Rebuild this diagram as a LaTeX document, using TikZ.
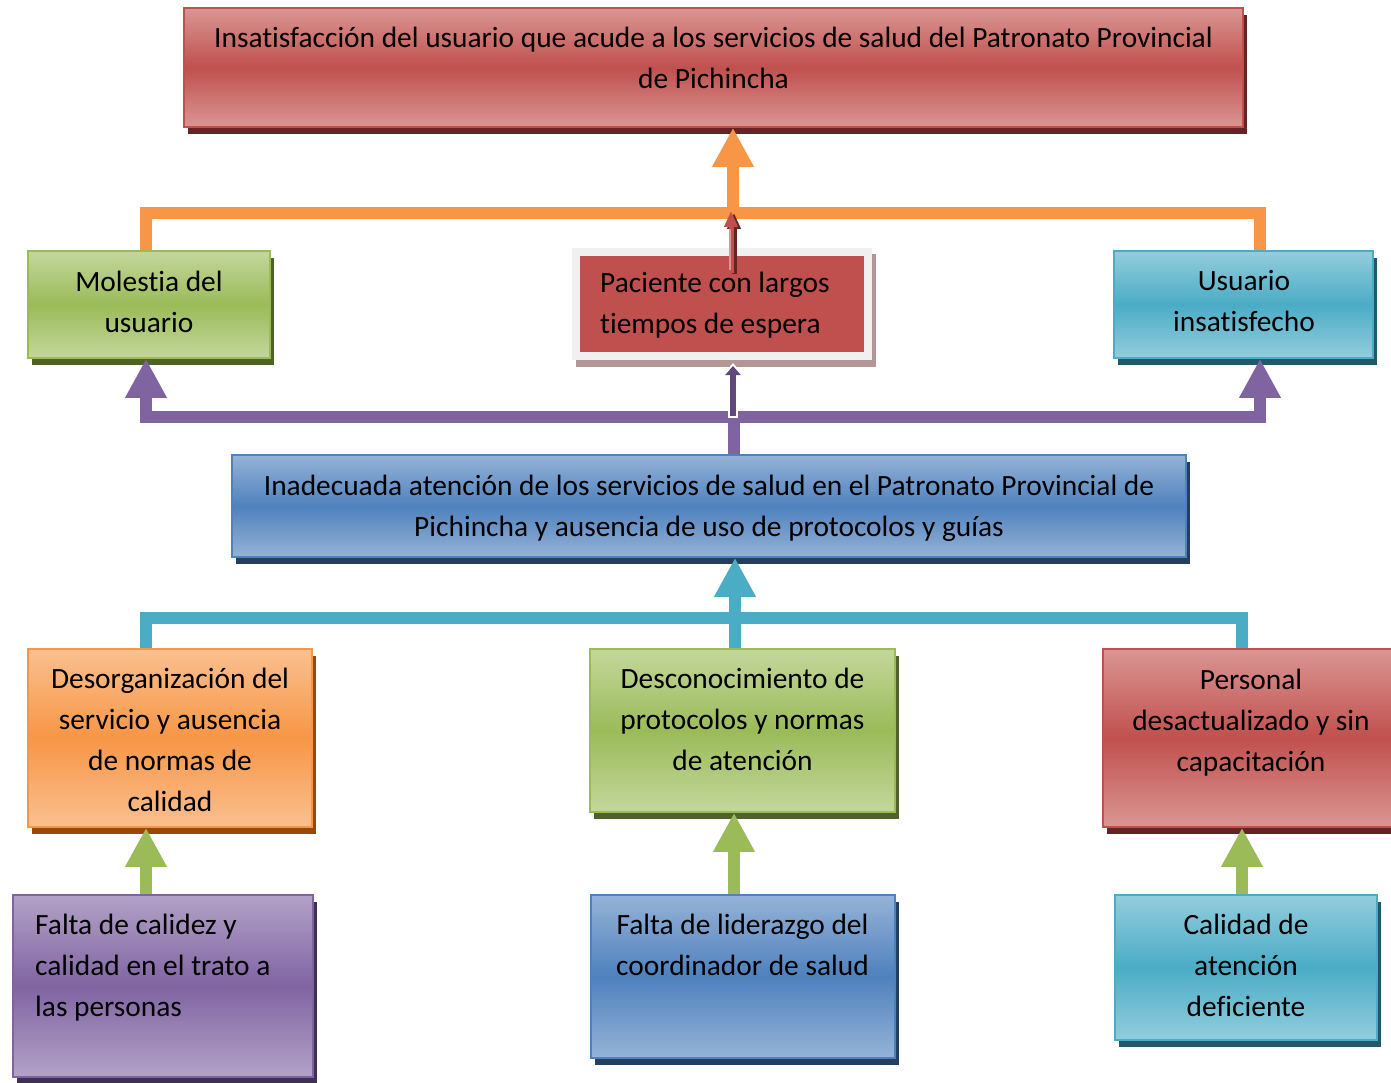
\documentclass[tikz,border=0pt]{standalone}
\usepackage{fontspec}
\setmainfont{Carlito}[Ligatures=NoCommon]
\usetikzlibrary{arrows.meta}
\definecolor{redM}{HTML}{C0504D}\definecolor{redL}{HTML}{DA9694}\definecolor{redS}{HTML}{632523}
\definecolor{grnM}{HTML}{9BBB59}\definecolor{grnL}{HTML}{C4D79B}\definecolor{grnS}{HTML}{4F6228}
\definecolor{aquM}{HTML}{4BACC6}\definecolor{aquL}{HTML}{93CDDD}\definecolor{aquS}{HTML}{215968}
\definecolor{bluM}{HTML}{4F81BD}\definecolor{bluL}{HTML}{95B3D7}\definecolor{bluS}{HTML}{243F60}
\definecolor{orgM}{HTML}{F79646}\definecolor{orgL}{HTML}{FAC090}\definecolor{orgS}{HTML}{984807}
\definecolor{purM}{HTML}{8064A2}\definecolor{purL}{HTML}{B3A2C7}\definecolor{purS}{HTML}{3F3151}
\definecolor{purD}{HTML}{5F497A}\definecolor{pacS}{HTML}{B49696}\definecolor{frameC}{HTML}{F0F0F0}
\tikzset{
  gbox/.style={rectangle, inner sep=0pt, line width=1.6pt, draw=#1M,
    top color=#1L, bottom color=#1L, middle color=#1M},
  txt/.style={font=\fontsize{29.4}{41}\selectfont, inner sep=0pt, align=center, anchor=base},
  ltxt/.style={font=\fontsize{29.4}{41}\selectfont, inner sep=0pt, align=left, anchor=base west},
  conn/.style={draw=#1, line width=12.5pt, line join=miter},
  bigtip/.tip={Triangle[width=39pt,length=39pt]},
}
\newcommand\shbox[6]{%
  \fill[#2S] ({#3+4},{#4+7}) rectangle ({#5+4},{#6+7});
  \node[gbox=#2, minimum width={#5-#3}, minimum height={#6-#4}] (#1) at ({(#3+#5)/2},{(#4+#6)/2}) {};}
\begin{document}
\begin{tikzpicture}[x=1pt,y=-1pt]
\fill[white] (0,0) rectangle (1391,1083);
\useasboundingbox (0,0) rectangle (1391,1083);
% boxes
\shbox{b1}{red}{184}{8}{1243}{127}
\shbox{b2}{grn}{28}{251}{270}{358}
\shbox{b4}{aqu}{1114}{251}{1373}{358}
\shbox{b5}{blu}{232}{455}{1186}{557}
\shbox{b6}{org}{28}{649}{312}{827}
\shbox{b7}{grn}{590}{649}{895}{812}
\shbox{b8}{red}{1103}{649}{1399}{827}
\shbox{b9}{pur}{13}{895}{313}{1077}
\shbox{b10}{blu}{591}{895}{895}{1058}
\shbox{b11}{aqu}{1115}{895}{1377}{1040}
% Paciente box
\fill[pacS] (576,254) rectangle (876,367);
\node[draw=frameC, line width=8pt, fill=redM, minimum width=292, minimum height=104, inner sep=0pt] (b3) at (722,304) {};
% texts (anchored at the baseline of the last line)
\node[txt] (t1) at (713.5,89) {Insatisfacción del usuario que acude a los servicios de salud del Patronato Provincial\\de Pichincha};
\node[txt] (t2) at (149,332) {Molestia del\\usuario};
\node[ltxt] (t3) at (600,333) {Paciente con largos\\tiempos de espera};
\node[txt] (t4) at (1244,331.5) {Usuario\\insatisfecho};
\node[txt] (t5) at (709,536) {Inadecuada atención de los servicios de salud en el Patronato Provincial de\\Pichincha y ausencia de uso de protocolos y guías};
\node[txt] (t6) at (170,811) {Desorganización del\\servicio y ausencia\\de normas de\\calidad};
\node[txt] (t7) at (742.5,770) {Desconocimiento de\\protocolos y normas\\de atención};
\node[txt] (t8) at (1251,771) {Personal\\desactualizado y sin\\capacitación};
\node[ltxt] (t9) at (35,1016) {Falta de calidez y\\calidad en el trato a\\las personas};
\node[txt] (t10) at (742.5,975) {Falta de liderazgo del\\coordinador de salud};
\node[txt] (t11) at (1246,1016) {Calidad de\\atención\\deficiente};
% connector coordinates
\coordinate (oL) at (146,213); \coordinate (oR) at (1260,213); \coordinate (oM) at (733,213);
\coordinate (pL) at (146,417); \coordinate (pR) at (1260,417); \coordinate (pM) at (734,417);
\coordinate (cL) at (146,618); \coordinate (cR) at (1242,618); \coordinate (cM) at (735,618);
\coordinate (gL) at (146,0); \coordinate (gM) at (734,0); \coordinate (gR) at (1242,0);
% orange
\draw[conn=orgM] (b2.north -| oL) -- (oL) -- (oR) -- (b4.north -| oR);
\draw[conn=orgM, -bigtip] (oM) -- (b1.south -| oM);
% purple
\draw[conn=purM, bigtip-bigtip] (b2.south -| pL) -- (pL) -- (pR) -- (b4.south -| pR);
\draw[conn=purM] (b5.north -| pM) -- (pM);
% cyan
\draw[conn=aquM] (b6.north -| cL) -- (cL) -- (cR) -- (b8.north -| cR);
\draw[conn=aquM, -bigtip] (b7.north -| cM) -- (b5.south -| cM);
% green
\draw[conn=grnM, -bigtip] (b9.north -| gL) -- (b6.south -| gL);
\draw[conn=grnM, -bigtip] (b10.north -| gM) -- (b7.south -| gM);
\draw[conn=grnM, -bigtip] (b11.north -| gR) -- (b8.south -| gR);
% small red arrow from Paciente
\coordinate (rs) at (731,273); \coordinate (re) at (731,211);
\coordinate (rs2) at (734,274); \coordinate (re2) at (734,213);
\draw[redS, line width=5pt, -{Triangle[width=13pt,length=16pt]}] (rs2) -- (re2);
\draw[redM, line width=5pt, -{Triangle[width=13pt,length=16pt]}] (rs) -- (re);
\draw[redL, line width=1.5pt] (730,270) -- (730,229);
% small purple arrow to Paciente
\coordinate (ps) at (733,418); \coordinate (pe) at (733,363);
\coordinate (ps2) at (733,416); \coordinate (pe2) at (733,366);
\draw[white, line width=10pt, -{Triangle[width=22pt,length=13pt]}] (ps) -- (pe);
\draw[purD, line width=6pt, -{Triangle[width=15pt,length=9pt]}] (ps2) -- (pe2);
\end{tikzpicture}
\end{document}
